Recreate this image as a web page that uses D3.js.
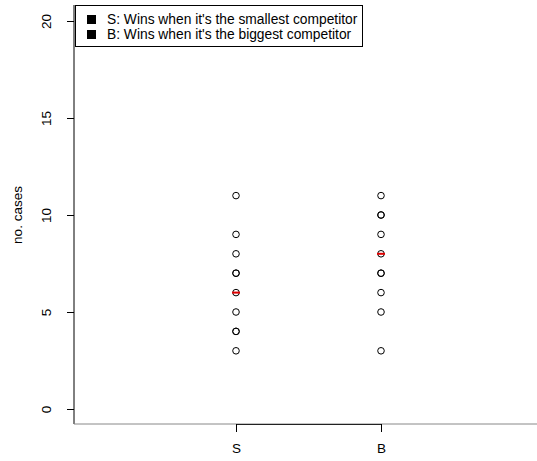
<!DOCTYPE html>
<html lang="en">
<head>
    <style>
    body { margin: 0; background: #fff; }
    text { font-family: "Liberation Sans", Arial, sans-serif; }
    </style>
    <title>no. cases</title>
</head>
<body>
<div id="chart"></div>
<script src="https://d3js.org/d3.v7.min.js"></script>
<script>
const groups = ["S", "B"];
const sValues = [11, 9, 8, 7, 7, 6, 5, 4, 4, 3];
const bValues = [11, 10, 10, 9, 8, 7, 7, 6, 5, 3];
const medians = [6, 8];
const yTicks = [0, 5, 10, 15, 20];
const legendLabels = ["S: Wins when it's the smallest competitor", "B: Wins when it's the biggest competitor"];

const w = 537, h = 461;
const left = 74, bottom = 424;
const fs = 13.5;

const svg = d3.select("#chart").append("svg")
    .attr("width", w)
    .attr("height", h);

const y = d3.scaleLinear().domain([0, 20]).range([409, 21]);
const x = d3.scalePoint().domain(groups).range([236, 381]);

// frame (left + bottom)
svg.append("line")
    .attr("x1", left).attr("x2", left)
    .attr("y1", 5).attr("y2", bottom)
    .attr("stroke", "#000");
svg.append("line")
    .attr("x1", left).attr("x2", w)
    .attr("y1", bottom).attr("y2", bottom)
    .attr("stroke", "#888");

// y axis
const yAxis = svg.append("g")
    .attr("transform", "translate(" + left + ",0)")
    .call(d3.axisLeft(y).tickValues(yTicks).tickSize(7));
yAxis.select(".domain").remove();
yAxis.selectAll("text")
    .attr("font-size", fs)
    .attr("font-family", "Liberation Sans, Arial, sans-serif")
    .attr("x", 0)
    .attr("dy", 0)
    .attr("transform", "translate(-23,0) rotate(-90)")
    .attr("text-anchor", "middle");

svg.append("text")
    .attr("transform", "translate(22,215) rotate(-90)")
    .attr("text-anchor", "middle")
    .attr("font-size", fs)
    .text("no. cases");

// x axis
const xAxis = svg.append("g")
    .attr("transform", "translate(0," + bottom + ")")
    .call(d3.axisBottom(x).tickSize(8).tickPadding(11).tickSizeOuter(0));
xAxis.select(".domain").attr("stroke", "#222");
xAxis.selectAll("text")
    .attr("font-size", fs)
    .attr("font-family", "Liberation Sans, Arial, sans-serif");

// points
const points = [];
sValues.forEach(function(v) { points.push({g: "S", v: v}); });
bValues.forEach(function(v) { points.push({g: "B", v: v}); });

svg.selectAll("circle.pt").data(points).enter().append("circle")
    .attr("class", "pt")
    .attr("cx", function(d) { return x(d.g); })
    .attr("cy", function(d) { return y(d.v); })
    .attr("r", 3.3)
    .attr("fill", "none")
    .attr("stroke", "#000")
    .attr("stroke-width", 1);

// medians
svg.selectAll("line.med").data(medians).enter().append("line")
    .attr("class", "med")
    .attr("x1", function(d, i) { return x(groups[i]) - 4; })
    .attr("x2", function(d, i) { return x(groups[i]) + 4; })
    .attr("y1", function(d) { return y(d); })
    .attr("y2", function(d) { return y(d); })
    .attr("stroke", "#e00000")
    .attr("stroke-width", 2);

// legend
const lg = svg.append("g");
lg.append("rect")
    .attr("x", 75.5).attr("y", 5.5)
    .attr("width", 287).attr("height", 41)
    .attr("fill", "#fff")
    .attr("stroke", "#000");
legendLabels.forEach(function(t, i) {
    lg.append("rect")
        .attr("x", 87).attr("y", 15 + i * 15)
        .attr("width", 9).attr("height", 9)
        .attr("fill", "#000");
    lg.append("text")
        .attr("x", 107).attr("y", 24 + i * 15)
        .attr("font-size", 13.8)
        .text(t);
});
</script>
</body>
</html>
